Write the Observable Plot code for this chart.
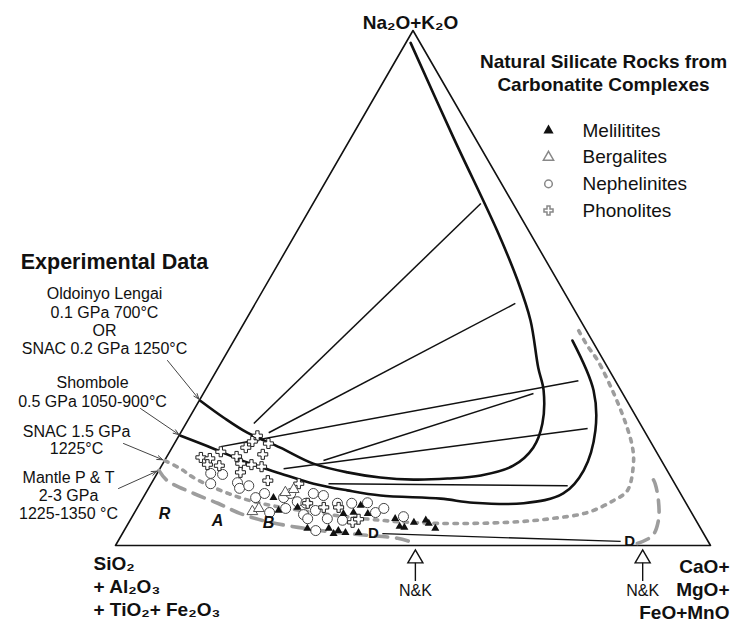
<!DOCTYPE html>
<html><head><meta charset="utf-8">
<script src="https://cdn.jsdelivr.net/npm/d3@7"></script>
<script src="https://cdn.jsdelivr.net/npm/@observablehq/plot@0.6"></script>
<style>body{margin:0;background:#fff}#chart svg{display:block}</style>
</head><body><div id="chart"></div>
<script>
// Compositions in wt%: [Na2O+K2O, CaO+MgO+FeO+MnO]; SiO2+Al2O3+TiO2+Fe2O3 is the remainder.
const lengaiCurve = [[97.6,0.8],[79.2,17.2],[61.1,33.6],[51.4,41.9],[43.7,47.9],[34.5,53.8],[30.1,56.9],[23.7,59.9],[19.0,60.7],[15.5,59.1],[13.6,54.6],[13.0,49.3],[12.8,43.7],[13.2,37.9],[14.2,31.9],[15.9,25.3],[19.0,18.2],[21.9,11.2],[24.8,5.8],[28.1,0.2]];
const shomboleCurve = [[39.8,56.9],[30.1,65.3],[22.3,69.5],[14.6,71.4],[10.1,70.2],[8.2,64.5],[8.3,56.0],[9.1,50.1],[9.7,39.7],[10.7,33.6],[12.0,27.3],[14.0,20.7],[16.1,14.1],[18.8,7.1],[21.3,0.3]];
const snac15Curve = [[41.7,57.0],[38.8,59.9],[35.9,63.1],[29.5,69.0],[23.7,73.9],[19.0,77.4],[15.9,79.1],[10.7,80.7],[8.7,79.3],[6.4,76.1],[5.2,70.5],[4.5,63.7],[4.3,52.0],[4.9,42.1],[6.8,27.7],[8.7,18.3],[10.7,12.3],[13.2,6.5],[14.9,3.5],[16.5,0.0]];
const mantleCurveLeft = [[14.6,0.0],[12.6,2.4],[10.1,8.1],[8.2,13.1],[6.2,17.9],[4.5,23.8],[2.9,33.0],[2.1,40.1],[1.4,46.7],[0.6,49.6]];
const mantleCurveRight = [[0.4,87.5],[1.9,89.3],[4.9,88.8],[8.7,86.9],[12.0,84.7],[13.0,83.8]];
const tieLines = [
  [[23.7,11.4],[66.4,28.2]],
  [[21.9,14.8],[47.0,43.7]],
  [[19.2,8.1],[32.0,61.8]],
  [[16.5,26.7],[29.5,55.5]],
  [[14.9,20.8],[22.7,68.0]],
  [[12.0,29.8],[11.6,70.2]]
];
const ddLine = [[2.3,43.7],[0.8,84.5]];
const phonolites = [[21.3,13.2],[20.2,12.9],[19.8,15.8],[19.0,12.4],[18.2,8.6],[17.1,5.8],[16.9,7.4],[17.3,11.7],[17.7,15.9],[15.7,7.6],[15.5,9.7],[15.9,13.1],[15.7,15.0],[15.3,16.9],[14.2,13.9],[12.6,19.3],[12.0,24.8],[8.2,28.2],[7.4,31.3],[7.4,33.8],[4.5,37.6],[5.1,38.3]];
const nephelinites = [[14.0,9.0],[13.8,11.1],[12.0,10.0],[12.2,14.4],[11.1,15.3],[11.6,16.6],[9.3,18.9],[10.1,20.0],[6.4,22.7],[9.3,23.6],[10.1,24.4],[8.5,26.3],[8.2,27.9],[10.1,28.2],[6.8,30.2],[7.2,25.0],[6.0,28.6],[5.2,29.7],[2.9,32.2],[5.2,33.0],[8.2,33.2],[4.9,35.7],[8.2,35.6],[8.3,38.2],[6.4,40.5],[7.2,41.5],[5.6,45.6],[9.7,30.1]];
const bergalites = [[6.6,19.7],[7.2,20.5],[10.3,23.4],[10.9,24.5]];
const melilitites = [[9.3,21.9],[6.8,24.0],[3.3,30.6],[3.3,34.2],[2.9,36.0],[2.5,37.4],[6.4,36.8],[7.8,37.3],[6.2,39.3],[5.2,44.4],[3.7,45.9],[3.5,46.8],[4.5,47.9],[4.9,49.7],[4.3,50.5],[3.3,52.1],[2.3,35.5],[2.5,39.6],[7.4,26.9],[6.2,35.2]];
const nkPositions = [50.4, 88.6];
const rockTypes = ["Melilitites", "Bergalites", "Nephelinites", "Phonolites"];
const regionLabels = ["R", "A", "B"];

// ---- geometry ----
const H = Math.sqrt(3) / 2;
const X0 = 115, X1 = 710, Y0 = 545, Y1 = 30;
const tx = d => d[1] / 100 + d[0] / 200;
const ty = d => d[0] / 100 * H;
const at = (px, py) => ({x: (px - X0) / (X1 - X0), y: (Y0 - py) / (Y0 - Y1) * H});
const FONT = "Liberation Sans, Arial, Helvetica, sans-serif";
function label(text, px, py, o = {}) {
  const p = at(px, py);
  return Plot.text([text], {x: () => p.x, y: () => p.y, text: d => d, fill: "#111", fontSize: 16, ...o});
}
const frame = [[0,0],[0,100],[100,0],[0,0]];

const pointers = [
  {from: [167,360], to: lengaiCurve[lengaiCurve.length - 1]},
  {from: [140,408], to: shomboleCurve[shomboleCurve.length - 1]},
  {from: [123,443], to: snac15Curve[snac15Curve.length - 1]},
  {from: [118,488], to: mantleCurveLeft[0]}
];
const legendRows = rockTypes.map((name, i) => ({name, i}));
const legendSym = {
  Melilitites: {symbol: "triangle", fill: "#111", stroke: "none"},
  Bergalites: {symbol: "triangle", fill: "white", stroke: "#888"},
  Nephelinites: {symbol: "circle", fill: "white", stroke: "#888"},
  Phonolites: {symbol: "cross", fill: "white", stroke: "#888"}
};
const regionPos = {R: [164,513], A: [217,520], B: [268,522]};

const marks = [
  Plot.line(frame, {x: tx, y: ty, stroke: "#111", strokeWidth: 1.6}),
  Plot.line(snac15Curve, {x: tx, y: ty, curve: "catmull-rom", stroke: "#9d9d9d", strokeWidth: 3.6, strokeDasharray: "3.5 6.5"}),
  Plot.line(mantleCurveLeft, {x: tx, y: ty, curve: "catmull-rom", stroke: "#9d9d9d", strokeWidth: 3.6, strokeDasharray: "12 9"}),
  Plot.line(mantleCurveRight, {x: tx, y: ty, curve: "catmull-rom", stroke: "#9d9d9d", strokeWidth: 3.6, strokeDasharray: "12 9"}),
  Plot.line(lengaiCurve, {x: tx, y: ty, curve: "catmull-rom", stroke: "#111", strokeWidth: 2.6}),
  Plot.line(shomboleCurve, {x: tx, y: ty, curve: "catmull-rom", stroke: "#111", strokeWidth: 2.6}),
  Plot.link(tieLines, {x1: d => tx(d[0]), y1: d => ty(d[0]), x2: d => tx(d[1]), y2: d => ty(d[1]), stroke: "#111", strokeWidth: 1.5}),
  Plot.link([ddLine], {x1: d => tx(d[0]), y1: d => ty(d[0]), x2: d => tx(d[1]), y2: d => ty(d[1]), stroke: "#111", strokeWidth: 1.3}),
  Plot.text([ddLine[0]], {x: tx, y: ty, text: () => "D", dx: -9, fontWeight: "bold", fontSize: 15, fill: "#111"}),
  Plot.text([ddLine[1]], {x: tx, y: ty, text: () => "D", dx: 9, fontWeight: "bold", fontSize: 15, fill: "#111"}),
  // data points
  Plot.dot(nephelinites, {x: tx, y: ty, symbol: "circle", r: 5, fill: "white", stroke: "#444", strokeWidth: 1}),
  Plot.dot(phonolites, {x: tx, y: ty, symbol: "cross", r: 4.2, fill: "white", stroke: "#222", strokeWidth: 1}),
  Plot.dot(bergalites, {x: tx, y: ty, symbol: "triangle", r: 4, fill: "white", stroke: "#555", strokeWidth: 1}),
  Plot.dot(melilitites, {x: tx, y: ty, symbol: "triangle", r: 3, fill: "#111"}),
  // N&K arrows
  Plot.ruleX(nkPositions, {x: c => c / 100, y1: () => at(0,562).y, y2: () => at(0,581).y, stroke: "#111", strokeWidth: 1.4}),
  Plot.dot(nkPositions, {x: c => c / 100, y: () => 0, dy: 13, symbol: "triangle", r: 5.6, fill: "white", stroke: "#111", strokeWidth: 1.4}),
  Plot.text(nkPositions, {x: c => c / 100, y: () => 0, dy: 45, text: () => "N&K", fontSize: 16, fill: "#111"}),
  // pointer arrows
  Plot.arrow(pointers, {x1: d => at(...d.from).x, y1: d => at(...d.from).y, x2: d => tx(d.to), y2: d => ty(d.to), stroke: "#444", strokeWidth: 1, headLength: 9, headAngle: 40, insetEnd: 2}),
  // region labels
  Plot.text(regionLabels, {x: d => at(...regionPos[d]).x, y: d => at(...regionPos[d]).y, text: d => d, fontWeight: "bold", fontStyle: "italic", fontSize: 16, fill: "#111"}),
  // legend
  Plot.dot(legendRows, {x: () => at(548,0).x, y: d => at(0, 130 + d.i * 26.7).y, symbol: d => legendSym[d.name].symbol, r: 3.8, fill: d => legendSym[d.name].fill, stroke: d => legendSym[d.name].stroke}),
  Plot.text(legendRows, {x: () => at(582,0).x, y: d => at(0, 130 + d.i * 26.7).y, text: d => d.name, textAnchor: "start", fontSize: 19, fill: "#111"}),
  // text labels
  label("Na₂O+K₂O", 410, 22, {fontWeight: "bold", fontSize: 19}),
  label("Natural Silicate Rocks from\nCarbonatite Complexes", 603, 71.5, {fontWeight: "bold", fontSize: 19, lineHeight: 1.2}),
  label("Experimental Data", 114, 262, {fontWeight: "bold", fontSize: 21.5}),
  label("Oldoinyo Lengai\n0.1 GPa 700°C\nOR\nSNAC 0.2 GPa 1250°C", 104, 320.5, {lineHeight: 1.15}),
  label("Shombole\n0.5 GPa 1050-900°C", 92, 391, {lineHeight: 1.15}),
  label("SNAC 1.5 GPa\n1225°C", 76, 440, {lineHeight: 1.05}),
  label("Mantle P & T\n2-3 GPa\n1225-1350 °C", 68, 495, {lineHeight: 1.13}),
  label("SiO₂\n+ Al₂O₃\n+ TiO₂+ Fe₂O₃", 93, 585, {fontWeight: "bold", fontSize: 19, lineHeight: 1.22, textAnchor: "start"}),
  label("CaO+\nMgO+\nFeO+MnO", 729, 588, {fontWeight: "bold", fontSize: 19, lineHeight: 1.2, textAnchor: "end"})
];

const chart = Plot.plot({
  width: 732, height: 626,
  marginLeft: X0, marginRight: 732 - X1, marginTop: Y1, marginBottom: 626 - Y0,
  x: {domain: [0, 1], axis: null},
  y: {domain: [0, H], axis: null},
  style: {fontFamily: FONT, background: "white", overflow: "visible"},
  marks
});
document.getElementById("chart").appendChild(chart);
</script>
</body></html>
